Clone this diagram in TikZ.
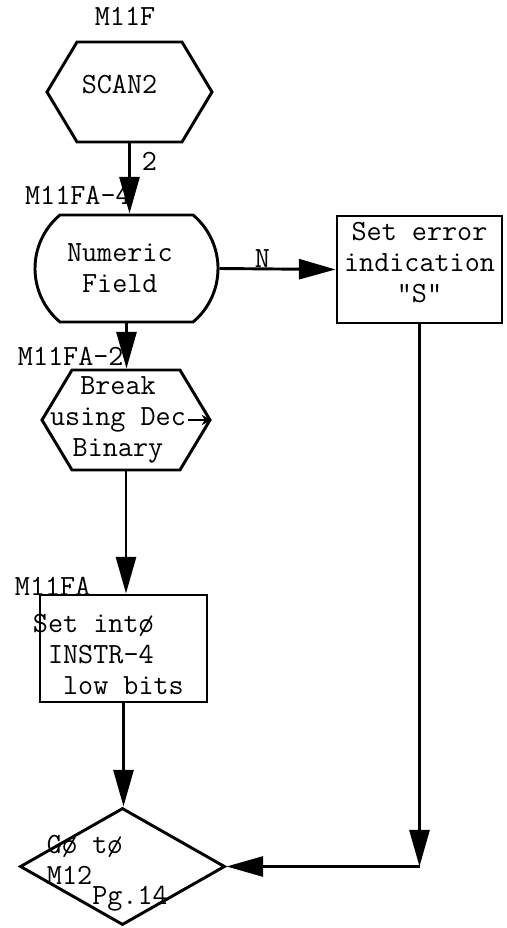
\documentclass[tikz,border=0pt]{standalone}
\usepackage{fontspec}
\usetikzlibrary{shapes.geometric,shapes.misc,shapes.symbols,arrows.meta}

\begin{document}
\begin{tikzpicture}[x=0.03cm,y=-0.03cm,line width=2.5pt,
  txt/.style={font=\fontsize{25}{26.5}\selectfont\ttfamily,inner sep=0pt,align=center},
  hexa/.style={draw,signal,signal to=east and west,signal pointer angle=118,inner sep=0pt},
  term/.style={draw,rounded rectangle,rounded rectangle arc length=100,inner sep=0pt},
  proc/.style={draw,rectangle,inner sep=0pt},
  decide/.style={draw,diamond,inner sep=0pt},
  arr/.style={-{Triangle[length=1.1cm,width=0.6cm]}}]
\path[use as bounding box] (0,0) rectangle (506,928);
\fill[white] (0,0) rectangle (506,928);
% left column
\node[hexa,minimum width=4.95cm,minimum height=3cm,
  label={[txt,xshift=-0.3cm,yshift=0.22cm]center:SCAN2}] (scan) at (129.5,92) {};
\node[txt] (scanlbl) at ([xshift=-0.135cm,yshift=0.72cm]scan.north) {M11F};
\node[term,minimum width=5.49cm,minimum height=3.21cm,
  label={[txt,xshift=-0.2cm]center:{Numeric\\Field}}] (numf) at (126.5,268.5) {};
\node[txt,anchor=east] (numflbl) at ([xshift=0.17cm,yshift=0.54cm]numf.north) {M11FA-4};
\node[hexa,minimum width=5.04cm,minimum height=3cm,
  label={[txt,xshift=-0.24cm]center:{Break\\using Dec\\Binary}}] (brk) at (126,420) {};
\node[txt,anchor=east] (brklbl) at ([xshift=-0.03cm,yshift=0.36cm]brk.north) {M11FA-2};
\node[proc,minimum width=5.01cm,minimum height=3.21cm] (setb) at (123.5,648.5) {};
\node[txt,align=left,anchor=west] (setbtxt) at ([xshift=-0.21cm,yshift=-0.18cm]setb.west)
  {Set intø\\\hphantom{S}INSTR-4\\\hphantom{Se}low bits};
\node[txt,anchor=west] (setblbl) at ([xshift=-0.75cm,yshift=0.21cm]setb.north west) {M11FA};
\node[decide,minimum width=6.15cm,minimum height=3.51cm] (goto) at (122.5,866.5) {};
\node[txt,align=left,anchor=north west] (gototxt)
  at ([xshift=0.81cm,yshift=0.975cm]goto.west) {Gø tø\\M12\raisebox{-0.6cm}{Pg.14}};
% right column
\node[proc,minimum width=4.95cm,minimum height=3.21cm,
  label={[txt,yshift=0.21cm]center:{Set error\\indication\\"S"}}] (err) at (419.5,269.5) {};
\coordinate (bend) at (err.south |- goto.east);
% connectors
\draw[arr] (scan.south) -- node[txt,pos=.25,anchor=west,xshift=0.33cm] {2} (scan.south |- numf.north);
\draw[arr] (numf.east) -- node[txt,pos=.37,anchor=south] {N} (err.west);
\draw[arr] (numf.south) -- (numf.south |- brk.north);
\draw[-{Stealth[length=0.3cm,width=0.3cm]},line width=1.2pt] ([xshift=-0.7cm]brk.east) -- (brk.east);
\draw[arr] (brk.south) -- (brk.south |- setb.north);
\draw[arr] (setb.south) -- (setb.south |- goto.north);
\draw[arr] (err.south) -- (bend);
\draw[arr] (bend) -- (goto.east);
\end{tikzpicture}
\end{document}
